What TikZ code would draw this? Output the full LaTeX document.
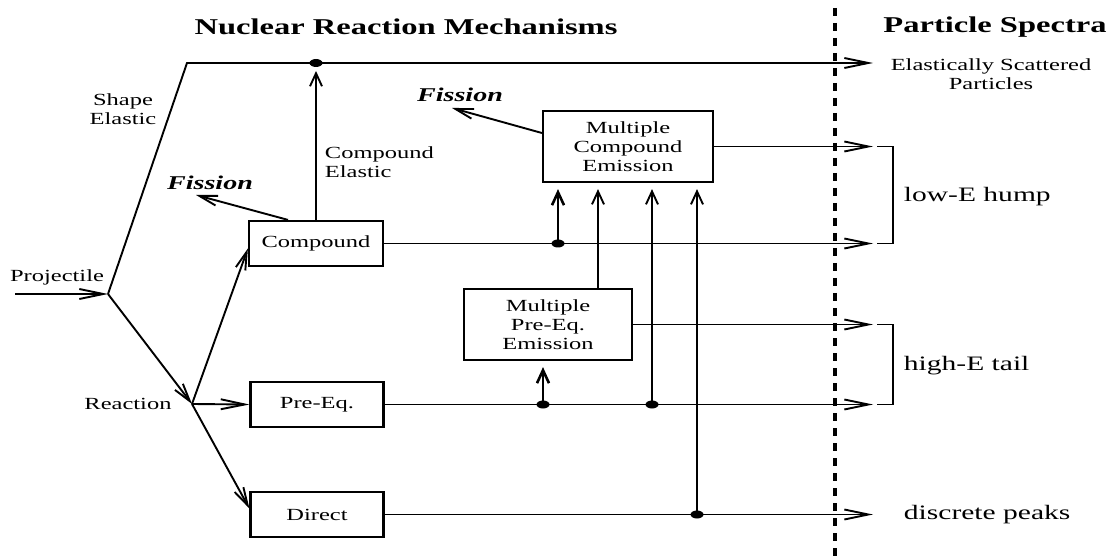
\documentclass[tikz,border=0pt]{standalone}
\usepackage{fontspec}
\setmainfont{Liberation Serif}
\usetikzlibrary{arrows.meta}
\newcommand{\wx}[1]{\scalebox{1.44}[1]{#1}}
\newcommand{\bodyfont}{\fontsize{17}{19}\selectfont}
\newcommand{\bigfont}{\fontsize{20.5}{23}\selectfont}
\newcommand{\titlefont}{\fontsize{22.6}{26}\selectfont\bfseries}
\newcommand{\fisfont}{\fontsize{19.5}{22}\selectfont\bfseries\itshape}
\begin{document}
\begin{tikzpicture}[x=1pt,y=-1pt,line width=1.9pt,
  box/.style={draw,line width=2.2pt,inner sep=0pt,font=\bodyfont,align=center},
  lbl/.style={inner sep=0pt,font=\bodyfont,align=center},
  big/.style={inner sep=0pt,font=\bigfont},
  ttl/.style={inner sep=0pt,font=\titlefont},
  fis/.style={inner sep=0pt,font=\fisfont},
  harr/.style={-{Straight Barb[length=24pt,width=10pt]}},
  varr/.style={-{Straight Barb[length=13pt,width=12pt]}},
  darr/.style={-{Straight Barb[length=18pt,width=10pt]}},
  thk/.style={line width=2.6pt}]
\useasboundingbox (0,0) rectangle (1109,556);
% titles
\node[ttl] (title) at (406,27) {\wx{Nuclear Reaction Mechanisms}};
\node[ttl] (spec) at (995,27) {\wx{Particle Spectra}};
\coordinate (dtop) at (835,8);
\coordinate (dbot) at (835,556);
\draw[line width=3.5pt, dash pattern=on 8pt off 7pt] (dtop) -- (dbot);
% labels
\node[lbl] (proj) at (57,277) {\wx{Projectile}};
\node[lbl] (shape) at (123,109) {\wx{Shape}\\\wx{Elastic}};
\node[lbl] (react) at (128,404) {\wx{Reaction}};
\node[lbl, align=left, anchor=west] (ce) at (324,162.5) {\wx{Compound}\\\wx{Elastic}};
\node[fis] (fis1) at (210,183) {\wx{Fission}};
\node[fis] (fis2) at (460,95) {\wx{Fission}};
\node[lbl] (esp) at (991,74) {\wx{Elastically Scattered}\\\wx{Particles}};
\node[big, anchor=west] (low) at (903,197) {\wx{low-E hump}};
\node[big, anchor=west] (high) at (903,366) {\wx{high-E tail}};
\node[big, anchor=west] (disc) at (903,515) {\wx{discrete peaks}};
% boxes
\node[box, minimum width=134pt, minimum height=45pt] (comp) at (316,243.5) {\wx{Compound}};
\node[box, minimum width=133pt, minimum height=45pt] (preq) at (317,404.5) {\wx{Pre-Eq.}};
\node[box, minimum width=133pt, minimum height=45pt] (dir) at (317,514.5) {\wx{Direct}};
\node[box, minimum width=170pt, minimum height=71pt] (mce) at (628,146.5) {\wx{Multiple}\\\wx{Compound}\\\wx{Emission}};
\node[box, minimum width=168pt, minimum height=71pt] (mpe) at (548,324.5) {\wx{Multiple}\\\wx{Pre-Eq.}\\\wx{Emission}};
% coordinates
\coordinate (pin) at (15,294);
\coordinate (j1) at (108,294);
\coordinate (j2) at (192,404);
\coordinate (c1) at (187,63);
\coordinate (e) at (comp.north |- c1);
\coordinate (eend) at (873,63);
\coordinate (xend) at (873,0);
\coordinate (bs) at (877,0);
\coordinate (bx) at (893,0);
\coordinate (f1) at (196,195);
\coordinate (f2) at (452,108);
\coordinate (d1) at (558,243.5);
\coordinate (d2) at (543,404.5);
\coordinate (d3) at (652,404.5);
\coordinate (d4) at (697,514.5);
\coordinate (u) at ([xshift=50pt]mpe.north);
% connectors
\draw[harr] (pin) -- (j1);
\draw[darr] (j1) -- (j2);
\draw[harr] (j1) -- (c1) -- (eend);
\draw[darr] (j2) -- ([yshift=-5pt]comp.west);
\draw[harr] (j2) -- (preq.west);
\draw[darr] (j2) -- ([yshift=6pt]dir.west);
\draw[varr, shorten >=8pt] (comp.north) -- (e);
\draw[darr] ([xshift=-28pt]comp.north) -- (f1);
\draw[darr] ([yshift=13.5pt]mce.west) -- (f2);
\draw[harr] (comp.east) -- (comp.east -| xend);
\draw[harr] (preq.east) -- (preq.east -| xend);
\draw[harr] (dir.east) -- (dir.east -| xend);
\draw[harr] (mce.east) -- (mce.east -| xend);
\draw[harr] (mpe.east) -- (mpe.east -| xend);
\draw[varr, thk, shorten >=6pt] (d1) -- (d1 |- mce.south);
\draw[varr, shorten >=6pt] (u) -- (u |- mce.south);
\draw[varr, shorten >=6pt] (d3) -- (d3 |- mce.south);
\draw[varr, shorten >=6pt] (d4) -- (d4 |- mce.south);
\draw[varr, thk, shorten >=6pt] (d2) -- (d2 |- mpe.south);
% brackets
\draw (mce.east -| bs) -- (mce.east -| bx) -- (comp.east -| bx) -- (comp.east -| bs);
\draw (mpe.east -| bs) -- (mpe.east -| bx) -- (preq.east -| bx) -- (preq.east -| bs);
% dots
\foreach \p in {e,d1,d2,d3,d4} \fill (\p) ellipse [x radius=6.5pt, y radius=4pt];
\end{tikzpicture}
\end{document}
